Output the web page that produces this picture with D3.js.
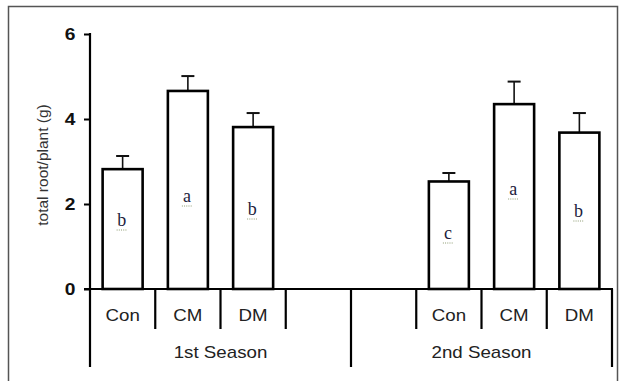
<!DOCTYPE html>
<html>
<head>
<meta charset="utf-8">
<script src="https://cdn.jsdelivr.net/npm/d3@7/dist/d3.min.js"></script>
<style>
  html, body { margin: 0; padding: 0; background: #fff; }
  svg { display: block; }
</style>
</head>
<body>
<svg id="chart" width="620" height="381"></svg>
<script>
// Total root mass per plant by treatment, two seasons
const seasons = ["1st Season", "2nd Season"];
const treatments = ["Con", "CM", "DM"];
const season1Means = [2.82, 4.66, 3.81];
const season1Errors = [0.31, 0.35, 0.33];
const season1Letters = ["b", "a", "b"];
const season2Means = [2.53, 4.35, 3.68];
const season2Errors = [0.20, 0.53, 0.46];
const season2Letters = ["c", "a", "b"];
const yTicks = [0, 2, 4, 6];

// each season takes four slots on the x axis; treatments sit in three of them
const slotStart = [0, 1]; // first treatment slot within each season block
const slotsPerSeason = 4;

const svg = d3.select("#chart");
const axisFont = "'Liberation Sans', Arial, sans-serif";
const stretch = 1.17; // wide sans labels

const x0 = 90, x1 = 612, yBase = 289;
const slotIdx = d3.range(seasons.length * slotsPerSeason);
const x = d3.scaleBand().domain(slotIdx).range([x0, x1]).padding(0);
const y = d3.scaleLinear().domain([0, 6]).range([yBase, 34]);

// outer frame
svg.append("rect")
  .attr("x", 8.5).attr("y", 6.5).attr("width", 609).attr("height", 400)
  .attr("fill", "none").attr("stroke", "#555").attr("stroke-width", 1.5);

const rows = [];
seasons.forEach((s, si) => {
  const means = si === 0 ? season1Means : season2Means;
  const errs = si === 0 ? season1Errors : season2Errors;
  const lets = si === 0 ? season1Letters : season2Letters;
  treatments.forEach((t, ti) => {
    rows.push({
      season: s, treatment: t, mean: means[ti], err: errs[ti], letter: lets[ti],
      slot: si * slotsPerSeason + slotStart[si] + ti
    });
  });
});

const barW = 40;
const g = svg.append("g");

// error bars (drawn first so the bar outline sits on top)
const eb = g.selectAll(".err").data(rows).enter().append("g");
eb.append("line")
  .attr("x1", d => x(d.slot) + x.bandwidth() / 2)
  .attr("x2", d => x(d.slot) + x.bandwidth() / 2)
  .attr("y1", d => y(d.mean)).attr("y2", d => y(d.mean + d.err))
  .attr("stroke", "#111").attr("stroke-width", 1.6);
eb.append("line")
  .attr("x1", d => x(d.slot) + x.bandwidth() / 2 - 6.5)
  .attr("x2", d => x(d.slot) + x.bandwidth() / 2 + 6.5)
  .attr("y1", d => y(d.mean + d.err)).attr("y2", d => y(d.mean + d.err))
  .attr("stroke", "#111").attr("stroke-width", 2);

// bars
g.selectAll(".bar").data(rows).enter().append("rect")
  .attr("x", d => x(d.slot) + (x.bandwidth() - barW) / 2)
  .attr("y", d => y(d.mean))
  .attr("width", barW)
  .attr("height", d => yBase - y(d.mean))
  .attr("fill", "#fff").attr("stroke", "#000").attr("stroke-width", 2.6);

// significance letters with their dotted underline
const letterY = { "1st Season": [226, 202, 215], "2nd Season": [239, 195, 217] };
const lt = g.selectAll(".lt").data(rows).enter().append("g")
  .attr("transform", d => {
    const ti = treatments.indexOf(d.treatment);
    return `translate(${x(d.slot) + x.bandwidth() / 2 - 1},${letterY[d.season][ti]})`;
  });
lt.append("text")
  .attr("text-anchor", "middle")
  .attr("font-family", "'Liberation Serif', 'Times New Roman', serif")
  .attr("font-size", 18).attr("fill", "#1c1c3c")
  .text(d => d.letter);
lt.append("line")
  .attr("x1", -5).attr("x2", 5).attr("y1", 4).attr("y2", 4)
  .attr("stroke", "#8c9a70").attr("stroke-width", 1).attr("stroke-dasharray", "1,1.2");

// y axis
const yAxis = d3.axisLeft(y).tickValues(yTicks).tickSize(6).tickPadding(0).tickFormat(d3.format("d"));
const ya = svg.append("g").attr("transform", `translate(${x0},0)`).call(yAxis);
ya.select(".domain").remove();
ya.selectAll(".tick line").attr("stroke", "#000").attr("stroke-width", 2);
ya.selectAll(".tick text")
  .attr("x", 0).attr("dy", "0.36em")
  .attr("text-anchor", "middle")
  .attr("transform", "translate(-20,0) scale(1.2,1)")
  .attr("font-family", axisFont).attr("font-size", 16).attr("font-weight", "bold")
  .attr("fill", "#111");
svg.append("line")
  .attr("x1", x0).attr("x2", x0).attr("y1", y(6) - 1).attr("y2", 367)
  .attr("stroke", "#000").attr("stroke-width", 2.2);

// baseline
svg.append("line")
  .attr("x1", x0 - 6).attr("x2", x1 + 1).attr("y1", yBase).attr("y2", yBase)
  .attr("stroke", "#000").attr("stroke-width", 2.2);

// category separators: short between slots, long at season bounds
const bounds = slotIdx.map(i => x(i)).concat([x1]);
bounds.forEach((bx, i) => {
  if (i === 0) return;
  const long = i % slotsPerSeason === 0;
  svg.append("line")
    .attr("x1", bx).attr("x2", bx)
    .attr("y1", yBase).attr("y2", long ? 367 : 329)
    .attr("stroke", "#000").attr("stroke-width", 2.2);
});

// treatment labels
svg.selectAll(".tl").data(rows).enter().append("text")
  .attr("transform", d => `translate(${x(d.slot) + x.bandwidth() / 2},321) scale(${stretch},1)`)
  .attr("text-anchor", "middle")
  .attr("font-family", axisFont).attr("font-size", 16).attr("fill", "#222")
  .text(d => d.treatment);

// season labels
svg.selectAll(".sl").data(seasons).enter().append("text")
  .attr("transform", (d, i) => {
    const cx = (x(i * slotsPerSeason) + (i === seasons.length - 1 ? x1 : x((i + 1) * slotsPerSeason))) / 2;
    return `translate(${cx},358) scale(${stretch},1)`;
  })
  .attr("text-anchor", "middle")
  .attr("font-family", axisFont).attr("font-size", 16).attr("fill", "#222")
  .text(d => d);

// y axis title
svg.append("text")
  .attr("transform", "translate(48,165) rotate(-90)")
  .attr("text-anchor", "middle")
  .attr("font-family", axisFont).attr("font-size", 15.5).attr("fill", "#333")
  .text("total root/plant (g)");
</script>
</body>
</html>
